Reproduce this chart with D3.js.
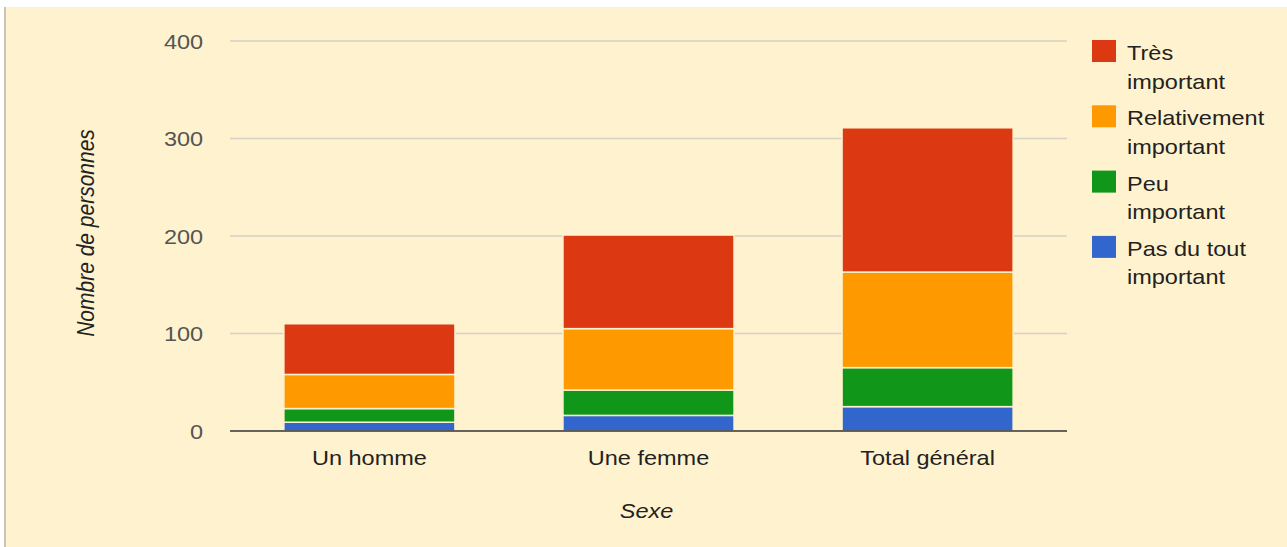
<!DOCTYPE html>
<html>
<head>
<meta charset="utf-8">
<script src="https://cdn.jsdelivr.net/npm/d3@7"></script>
<style>
  html, body { margin: 0; padding: 0; background: #fff; }
  svg { display: block; }
</style>
</head>
<body>
<svg id="chart" width="1287" height="547"></svg>
<script>
const width = 1287;
const height = 547;

// data
const categories = ["Un homme", "Une femme", "Total général"];
const series = ["Pas du tout important", "Peu important", "Relativement important", "Très important"];
const pas_du_tout = [9, 16, 25];
const peu = [14, 26, 40];
const relativement = [35, 63, 98];
const tres = [52, 96, 148];
const y_ticks = [0, 100, 200, 300, 400];

// legend order is top -> bottom
const legend_items = [
  { key: "Très important", lines: ["Très", "important"] },
  { key: "Relativement important", lines: ["Relativement", "important"] },
  { key: "Peu important", lines: ["Peu", "important"] },
  { key: "Pas du tout important", lines: ["Pas du tout", "important"] }
];

const color = d3.scaleOrdinal(series, ["#3366cc", "#109618", "#ff9900", "#dc3912"]);

const bg = "#fff2cf";
const font = "'Liberation Sans', Arial, sans-serif";
const sx = 1.12; // the picture's text is a bit wide

const table = categories.map((c, i) => ({
  cat: c,
  "Pas du tout important": pas_du_tout[i],
  "Peu important": peu[i],
  "Relativement important": relativement[i],
  "Très important": tres[i]
}));
const stacked = d3.stack().keys(series)(table);

const margin = { left: 230, right: 220, top: 41, bottom: 116 };
const x = d3.scaleBand(categories, [margin.left, width - margin.right])
  .paddingInner(0.387)
  .paddingOuter(0.193);
const y = d3.scaleLinear([0, 400], [height - margin.bottom, margin.top]);

const svg = d3.select("#chart");

// background: white strip on top, grey edge on the left
svg.append("rect").attr("width", width).attr("height", height).attr("fill", "#fff");
svg.append("rect").attr("x", 4).attr("y", 7).attr("width", width - 4).attr("height", height - 7).attr("fill", bg);
svg.append("rect").attr("x", 4).attr("y", 7).attr("width", 2).attr("height", height - 7).attr("fill", "#c8c4bc");

// grid
svg.append("g")
  .selectAll("line")
  .data(y_ticks.filter(d => d > 0))
  .join("line")
    .attr("x1", margin.left)
    .attr("x2", width - margin.right)
    .attr("y1", d => y(d))
    .attr("y2", d => y(d))
    .attr("stroke", "#d4d0c6")
    .attr("stroke-width", 1.5);

// y axis labels
const y_axis = svg.append("g")
  .attr("transform", `translate(${margin.left},0)`)
  .call(d3.axisLeft(y).tickValues(y_ticks).tickSize(0).tickPadding(24));
y_axis.select(".domain").remove();
y_axis.selectAll("text")
  .attr("font-family", font)
  .attr("font-size", 21)
  .attr("fill", "#555")
  .attr("dy", "0.34em")
  .attr("transform", `scale(${sx},1)`);

// bars
svg.append("g")
  .selectAll("g")
  .data(stacked)
  .join("g")
    .attr("fill", d => color(d.key))
  .selectAll("rect")
  .data(d => d)
  .join("rect")
    .attr("x", d => x(d.data.cat))
    .attr("width", x.bandwidth())
    .attr("y", d => y(d[1]))
    .attr("height", d => y(d[0]) - y(d[1]))
    .attr("stroke", bg)
    .attr("stroke-width", 1.5);

// baseline
svg.append("line")
  .attr("x1", margin.left)
  .attr("x2", width - margin.right)
  .attr("y1", y(0))
  .attr("y2", y(0))
  .attr("stroke", "#333")
  .attr("stroke-width", 1.5);

// x axis labels
const x_axis = svg.append("g")
  .attr("transform", `translate(0,${y(0)})`)
  .call(d3.axisBottom(x).tickSize(0).tickPadding(0));
x_axis.select(".domain").remove();
x_axis.selectAll("text")
  .attr("font-family", font)
  .attr("font-size", 21)
  .attr("fill", "#222")
  .attr("y", 34)
  .attr("dy", 0)
  .attr("transform", `scale(${sx},1)`);

// axis titles
svg.append("g")
  .attr("transform", `translate(${x(categories[1]) + x.bandwidth() / 2 - 2},518)`)
  .append("text")
    .attr("text-anchor", "middle")
    .attr("font-family", font)
    .attr("font-size", 21)
    .attr("font-style", "italic")
    .attr("fill", "#222")
    .attr("transform", `scale(${sx},1)`)
    .text("Sexe");

svg.append("g")
  .attr("transform", `translate(94,${(y(0) + y(400)) / 2 - 3}) rotate(-90)`)
  .append("text")
    .attr("text-anchor", "middle")
    .attr("font-family", font)
    .attr("font-size", 21)
    .attr("font-style", "italic")
    .attr("fill", "#222")
    .attr("transform", `scale(1,${sx})`)
    .text("Nombre de personnes");

// legend
const legend = svg.append("g")
  .selectAll("g")
  .data(legend_items)
  .join("g")
    .attr("transform", (d, i) => `translate(1092,${40 + i * 65.3})`);
legend.append("rect")
  .attr("width", 24)
  .attr("height", 22)
  .attr("fill", d => color(d.key));
legend.each(function(d) {
  const g = d3.select(this);
  d.lines.forEach((line, j) => {
    g.append("g")
      .attr("transform", `translate(35,${20 + j * 28.5})`)
      .append("text")
        .attr("font-family", font)
        .attr("font-size", 21)
        .attr("fill", "#222")
        .attr("transform", `scale(${sx},1)`)
        .text(line);
  });
});
</script>
</body>
</html>
